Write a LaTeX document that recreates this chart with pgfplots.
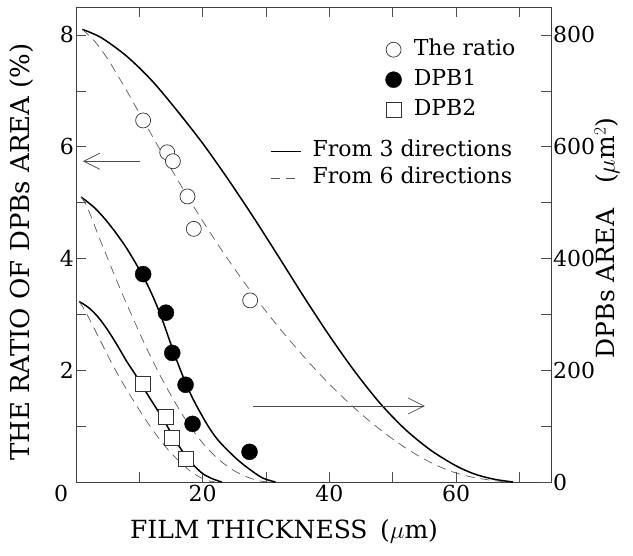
\documentclass[border=0pt]{standalone}
\usepackage{fontspec}
\setmainfont{DejaVu Serif}
\usepackage{pgfplots}
\pgfplotsset{compat=1.18}
\usetikzlibrary{arrows.meta}
\begin{document}
\begin{tikzpicture}
\pgfplotsset{
  solidc/.style={line width=1.5pt, black, smooth, no markers},
  dashc/.style={line width=0.7pt, black!65, dash pattern=on 9pt off 6pt, smooth, no markers},
  common/.style={width=475pt, height=475pt, scale only axis,
    xmin=0, xmax=75,
    tick align=inside, major tick length=10pt, minor tick length=10pt,
    tick style={line width=0.6pt, black!70},
    axis line style={line width=0.8pt, black!75},
    font=\fontsize{22}{26}\selectfont,
    label style={font=\fontsize{25}{30}\selectfont},
    /pgf/number format/assume math mode=true,
    yticklabel style={inner xsep=2pt},
  },
}
\begin{axis}[common, name=A,
  ymin=0, ymax=8.5,
  xtick={0,20,40,60}, xticklabels={\llap{0\hspace{8pt}},20,40,60},
  minor xtick={10,30,50,70},
  ytick={2,4,6,8}, minor ytick={1,3,5,7}, ytick pos=left,
  xlabel={FILM THICKNESS\enspace($\mu$m)},
  ylabel={THE RATIO OF DPBs AREA (\%)},
  xlabel style={at={(axis description cs:0.438,-0.103)}, anchor=center},
  ylabel style={at={(axis description cs:-0.114,0.484)}, anchor=center, font=\fontsize{26}{30}\selectfont},
  legend style={at={(axis description cs:0.645,0.939)}, anchor=north west, draw=none, fill=none,
    font=\fontsize{22}{26}\selectfont, nodes={inner sep=1pt, text height=16pt, text depth=5pt}, row sep=7pt},
  legend cell align=left,
  legend image code/.code={\draw[#1] plot coordinates {(0pt,0pt)}; \path (-7.5pt,0pt) (19pt,0pt);},
]
% ratio curves
\addplot[solidc, forget plot] coordinates {
(1,8.1) (4,7.95) (8,7.62) (12,7.18) (16,6.64) (20,6.06) (24,5.42) (28,4.74) (32,4.03)
(36,3.31) (40,2.62) (44,1.98) (48,1.41) (52,0.94) (56,0.57) (60,0.29) (63,0.14) (66,0.05) (69,0)};
\addplot[dashc, forget plot] coordinates {
(1,8.1) (3,7.88) (5,7.57) (7.5,7.1) (10,6.6) (12.5,6.1) (15,5.61) (17.5,5.13) (20,4.67)
(23,4.15) (26,3.66) (29,3.2) (32,2.77) (35,2.37) (38,1.99) (41,1.64) (44,1.32) (47,1.03)
(50,0.77) (53,0.54) (56,0.35) (59,0.2) (62,0.1) (65,0.04) (68,0)};
% DPB1 curves
\addplot[solidc, forget plot] coordinates {
(0.8,5.1) (3,4.9) (5.2,4.62) (7.9,4.2) (10.6,3.68) (12.3,3.28) (13.7,2.88) (15.5,2.3)
(17,1.86) (18.5,1.48) (20.7,1.03) (22.5,0.74) (25.3,0.42) (27.5,0.22) (29.5,0.07) (31.5,0)};
\addplot[dashc, forget plot] coordinates {
(0.8,5.1) (1.5,4.98) (2.5,4.72) (3.5,4.42) (5,4.0) (7,3.45) (9,2.93) (11,2.43) (13,1.97)
(15,1.55) (17,1.17) (19,0.84) (21,0.57) (23,0.36) (25,0.2) (27,0.09) (29,0.02) (30.5,0)};
% DPB2 curves
\addplot[solidc, forget plot] coordinates {
(0.5,3.23) (2,3.12) (3.5,2.95) (5,2.72) (6.5,2.45) (8,2.16) (9.5,1.9) (11,1.62)
(12.5,1.35) (14,1.08) (15.5,0.78) (17,0.52) (18.5,0.31) (20,0.15) (21.5,0.06) (23,0)};
\addplot[dashc, forget plot] coordinates {
(0.5,3.23) (1.5,3.05) (3,2.72) (4.5,2.38) (6,2.05) (7.5,1.75) (9,1.47) (10.5,1.2)
(12,0.95) (13.5,0.72) (15,0.52) (16.5,0.35) (18,0.2) (19.5,0.09) (21,0.02) (22,0)};
% data points
\addplot[only marks, mark=*, mark size=7.5pt, mark options={fill=white, draw=black!80, line width=0.7pt}] coordinates {
(10.6,6.47) (14.4,5.90) (15.3,5.74) (17.6,5.11) (18.6,4.53) (27.5,3.25)};
\addlegendentry{The ratio}
\addplot[only marks, mark=*, mark size=8pt, mark options={fill=black, draw=black}] coordinates {
(10.6,3.72) (14.2,3.03) (15.2,2.31) (17.3,1.74) (18.4,1.04) (27.4,0.54)};
\addlegendentry{DPB1}
\addplot[only marks, mark=square*, mark size=7.5pt, mark options={fill=white, draw=black!80, line width=0.7pt}] coordinates {
(10.5,1.76) (14.2,1.17) (15.1,0.79) (17.3,0.41)};
\addlegendentry{DPB2}
% arrows
\draw[black!70, line width=0.7pt, -{Straight Barb[length=16pt, width=16pt]}] (axis cs:10.1,5.74) -- (axis cs:1.1,5.74);
\draw[black!70, line width=0.7pt, -{Straight Barb[length=16pt, width=16pt]}] (axis cs:28,1.36) -- (axis cs:55.1,1.36);
\end{axis}
\begin{axis}[common,
  hide x axis, axis y line*=right,
  ymin=0, ymax=850,
  ytick={0,200,400,600,800}, minor ytick={100,300,500,700},
  ylabel={DPBs AREA\quad($\mu$m$^2$)},
  ylabel style={at={(axis description cs:1.118,0.514)}, anchor=center},
  legend style={at={(axis description cs:0.402,0.725)}, anchor=north west, draw=none, fill=none,
    font=\fontsize{22}{26}\selectfont, nodes={inner sep=1pt, text height=16pt, text depth=5pt}, row sep=4pt},
  legend cell align=left,
  legend image code/.code={\draw[#1] (0pt,0pt) -- (30pt,0pt); \path (40pt,0pt);},
]
\addlegendimage{line width=1.5pt, black}
\addlegendentry{From 3 directions}
\addlegendimage{line width=0.7pt, black!65, dash pattern=on 9pt off 6pt}
\addlegendentry{From 6 directions}
\end{axis}
\pgfresetboundingbox
\path ([shift={(-76pt,-73pt)}]A.south west) rectangle ([shift={(82pt,7pt)}]A.north east);
\end{tikzpicture}
\end{document}
